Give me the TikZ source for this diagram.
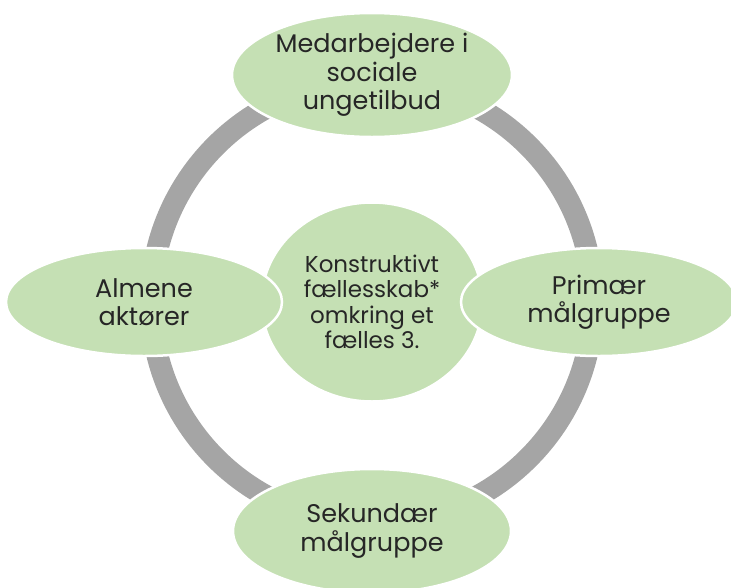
\documentclass[tikz,border=0pt]{standalone}
\usepackage{fontspec}
\setmainfont{Poppins}
\usepackage{tikz}
\usetikzlibrary{positioning}
\usetikzlibrary{shapes.geometric}
\definecolor{leafgreen}{HTML}{C5E0B4}
\definecolor{ringgray}{HTML}{A5A5A5}
\tikzstyle{blob} = [ellipse, fill=leafgreen, draw=white, line width=2.5pt, inner sep=0pt, align=center, text=black!85]
\tikzstyle{outer} = [blob, font=\fontsize{25.5}{28.5}\selectfont]
\tikzstyle{core} = [blob, font=\fontsize{23}{25.5}\selectfont]
\tikzstyle{ring} = [draw=ringgray, line width=22pt]

\begin{document}
\begin{tikzpicture}[x=1pt, y=-1pt]
  \useasboundingbox (0,0) rectangle (731,587);
  \coordinate (mid) at (372,302);
  \draw[ring] (mid) circle[radius=221pt];

  \node[core, minimum width=221pt, minimum height=199pt] (fb) at (mid) {Konstruktivt\\fællesskab*\\omkring et\\fælles 3.};
  \node[outer, minimum width=280pt, minimum height=124pt] (staff) at (372,75) {Medarbejdere i\\sociale\\ungetilbud};
  \node[outer, minimum width=276pt, minimum height=108pt] (alm) at (144,302) {Almene\\aktører};
  \node[outer, minimum width=276pt, minimum height=108pt] (prim) at (599,302) {Primær\\målgruppe};
  \node[outer, minimum width=278pt, minimum height=124pt] (sek) at (372,531) {Sekundær\\målgruppe};
\end{tikzpicture}
\end{document}
